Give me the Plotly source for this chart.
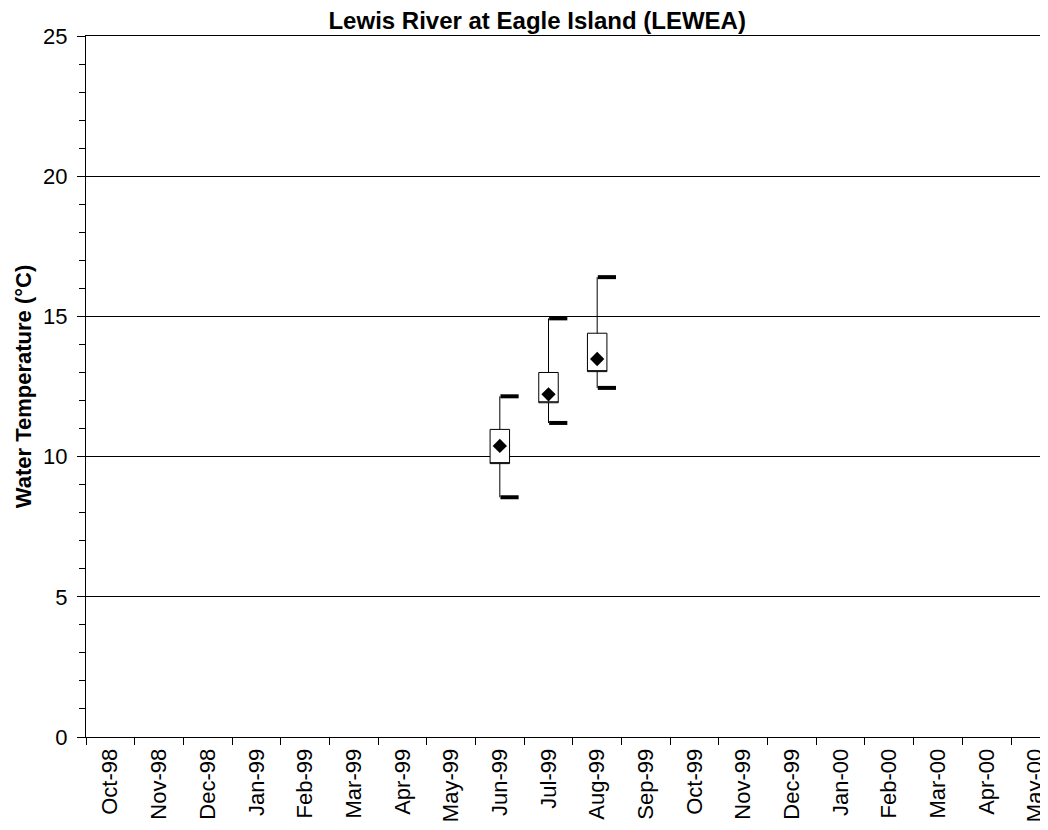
import plotly.graph_objects as go

# Eixo de categorias (meses)
months = ["Oct-98", "Nov-98", "Dec-98", "Jan-99", "Feb-99", "Mar-99", "Apr-99",
          "May-99", "Jun-99", "Jul-99", "Aug-99", "Sep-99", "Oct-99", "Nov-99",
          "Dec-99", "Jan-00", "Feb-00", "Mar-00", "Apr-00", "May-00"]

# Estatisticas mensais de temperatura (°C)
box_months = ["Jun-99", "Jul-99", "Aug-99"]
t_min = [8.55, 11.2, 12.45]
t_q1 = [9.75, 11.92, 13.03]
t_mean = [10.38, 12.22, 13.48]
t_q3 = [10.97, 13.0, 14.4]
t_max = [12.15, 14.93, 16.4]

y_ticks = [0, 5, 10, 15, 20, 25]

FONT = "Liberation Sans, Arial, sans-serif"

pos = [months.index(m) for m in box_months]
boundaries = [i - 0.5 for i in range(len(months) + 1)]
x_range = [-0.5, 19.26]

fig = go.Figure()

# caixas (q1..q3) com bigodes ate min/max
fig.add_trace(go.Box(
    x=pos, q1=t_q1, median=t_q1, q3=t_q3,
    lowerfence=t_min, upperfence=t_max,
    width=0.4, whiskerwidth=0,
    fillcolor="white", line=dict(color="black", width=1),
    boxpoints=False, hoverinfo="skip", showlegend=False,
))

# media
fig.add_trace(go.Scatter(
    x=pos, y=t_mean, mode="markers",
    marker=dict(symbol="diamond", size=11, color="black"),
    showlegend=False,
))

# marcas de maximo e minimo, deslocadas para a direita
dash_x = [p + 0.2 for p in pos]
for vals in (t_max, t_min):
    fig.add_trace(go.Scatter(
        x=dash_x, y=vals, mode="markers",
        marker=dict(symbol="line-ew", size=13,
                    line=dict(color="black", width=4)),
        showlegend=False,
    ))

# a pagina tem 8px de margem no body
fig.update_layout(
    width=1040, height=822,
    margin=dict(l=78, r=0, t=28, b=93),
    paper_bgcolor="white", plot_bgcolor="white",
    font=dict(family=FONT, color="black"),
    title=dict(text="<b>Lewis River at Eagle Island (LEWEA)</b>",
               x=0.469, xanchor="center", xref="paper",
               y=1, yanchor="top", pad=dict(t=4),
               font=dict(size=24)),
    xaxis=dict(
        range=x_range, tickmode="array",
        tickvals=list(range(len(months))), ticktext=months,
        tickangle=-90, ticks="", tickfont=dict(size=22),
        ticklabelstandoff=2,
        showline=True, linecolor="black", linewidth=1, mirror=True,
        showgrid=False, zeroline=False, automargin=False,
        minor=dict(tickmode="array", tickvals=boundaries, ticks="outside",
                   ticklen=7, tickcolor="black", showgrid=False),
    ),
    xaxis2=dict(
        overlaying="x", anchor="y", side="bottom", range=x_range,
        tickmode="array", tickvals=boundaries, ticks="inside",
        ticklen=7, tickcolor="black", showticklabels=False,
        showgrid=False, zeroline=False, showline=False,
    ),
    yaxis=dict(
        range=[0, 25], tickmode="array", tickvals=y_ticks,
        ticks="outside", ticklen=8, tickcolor="black",
        tickfont=dict(size=22), ticklabelstandoff=5,
        showline=True, linecolor="black", linewidth=1,
        showgrid=True, gridcolor="black", gridwidth=1, zeroline=False,
        automargin=False,
        minor=dict(dtick=1, ticks="outside", ticklen=6,
                   tickcolor="black", showgrid=False),
        title=dict(text="<b>Water Temperature (°C)</b>",
                   font=dict(size=22), standoff=5),
    ),
)

fig.write_html("out.html")
